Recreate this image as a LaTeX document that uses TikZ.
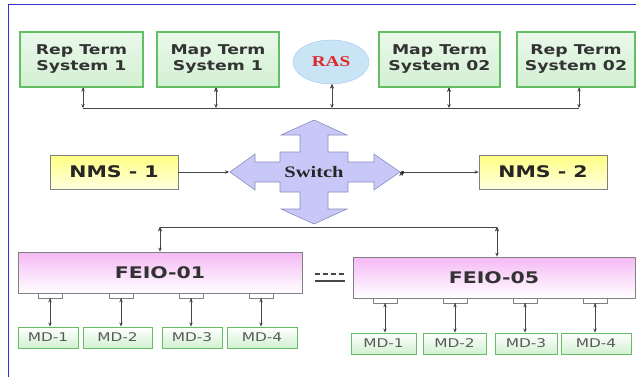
\documentclass[tikz,border=0pt]{standalone}
\usepackage{fontspec}
\setmainfont{DejaVu Sans}[FakeStretch=1.28]
\newfontfamily\swfont{Liberation Serif}[FakeStretch=1.28]
\usetikzlibrary{arrows.meta,positioning,shapes}
\definecolor{termgreen}{RGB}{100,190,100}
\definecolor{termfill}{RGB}{210,240,210}
\definecolor{nmsyellow}{RGB}{255,255,130}
\definecolor{feiopink}{RGB}{245,185,245}
\definecolor{swfill}{RGB}{200,200,248}
\definecolor{swdraw}{RGB}{140,140,190}
\definecolor{frameblue}{RGB}{50,50,210}
\definecolor{linkgray}{RGB}{70,70,70}
\definecolor{rasfill}{RGB}{200,228,245}
\definecolor{rasred}{RGB}{225,40,40}
\tikzset{
net/.style={>={Stealth[length=4pt,width=3.5pt]}},
link/.style={draw=linkgray,line width=0.7pt},
term/.style={rectangle,draw=termgreen,line width=1.2pt,top color=termfill!45,
bottom color=termfill,minimum width=#1,minimum height=55pt,align=center,
text=black!80,font=\fontsize{13.5}{16}\selectfont\bfseries},
term/.default={122pt},
ras/.style={ellipse,fill=rasfill,draw=rasfill!85!blue,minimum width=76pt,
minimum height=44pt,text=rasred,font=\swfont\bfseries\fontsize{15}{17}\selectfont},
nms/.style={rectangle,draw=gray,line width=0.8pt,top color=nmsyellow,
bottom color=nmsyellow!25,minimum width=128pt,minimum height=34pt,
text=black!85,font=\fontsize{16}{18}\selectfont\bfseries},
feio/.style={rectangle,draw=gray,line width=0.8pt,top color=feiopink,
bottom color=white,minimum width=#1,minimum height=41pt,
text=black!80,font=\fontsize{16}{18}\selectfont\bfseries},
feio/.default={283pt},
port/.style={rectangle,draw=gray,line width=0.7pt,fill=white,
minimum width=24pt,minimum height=5pt,inner sep=0pt},
md/.style={rectangle,draw=termgreen,line width=0.9pt,top color=white,
bottom color=termfill,minimum width=#1,minimum height=21pt,inner sep=0pt,
text=black!65,font=\fontsize{12}{14}\selectfont},
md/.default={62pt},
switch/.style={fill=swfill,draw=swdraw,line width=0.6pt},
frame/.style={draw=frameblue,line width=1.8pt},
}
\begin{document}
\begin{tikzpicture}[x=1pt,y=-1pt,net]
\useasboundingbox (0,0) rectangle (636,377);
\draw[frame] (636,4.5) -- (8.5,4.5) -- (8.5,377);

% upper row
\node[term=123pt] (rep1) at (81.5,59.5) {Rep Term\\System 1};
\node[term=122pt] (map1) at (218,59.5) {Map Term\\System 1};
\node[ras] (ras) at (331,62) {RAS};
\node[term=121pt] (map2) at (439.5,59.5) {Map Term\\System 02};
\node[term=118pt] (rep2) at (576,59.5) {Rep Term\\System 02};

\coordinate (b1) at (83,108);
\coordinate (b2) at (216,108);
\coordinate (b3) at (332,108);
\coordinate (b4) at (449,108);
\coordinate (b5) at (579,108);
\path[link] (b1) edge (b5);
\path[link,->] (rep1.south -| b1) edge (b1);
\path[link,<->] (map1.south -| b2) edge (b2);
\path[link,<->] (ras.south -| b3) edge (b3);
\path[link,<->] (map2.south -| b4) edge (b4);
\path[link,->] (rep2.south -| b5) edge (b5);

% switch
\draw[switch] (314,120) -- (347,135) -- (328,135) -- (328,152) -- (348,152)
  -- (348,162) -- (374,162) -- (374,154) -- (400,172) -- (374,190) -- (374,182)
  -- (348,182) -- (348,192) -- (328,192) -- (328,209) -- (347,209) -- (314,224)
  -- (281,209) -- (300,209) -- (300,192) -- (280,192) -- (280,182) -- (255,182)
  -- (255,190) -- (230,172) -- (255,154) -- (255,162) -- (280,162) -- (280,152)
  -- (300,152) -- (300,135) -- (281,135) -- cycle;
\node[font=\swfont\bfseries\fontsize{16}{18}\selectfont,text=black!85] (sw) at (314,172) {Switch};
\coordinate (swL) at (229,172);
\coordinate (swR) at (401,172);

\node[nms] (nms1) at (114,172) {NMS - 1};
\node[nms] (nms2) at (543,172) {NMS - 2};
\path[link,->] (nms1) edge (swL);
\path[link,{Square[length=2.5pt,width=2.5pt]}->] (swR) edge (nms2);

% lower row
\coordinate (c1) at (160,227);
\coordinate (c2) at (497,227);
\path[link] (c1) edge (c2);
\node[feio=284pt] (feio1) at (160,272.5) {FEIO-01};
\node[feio=282pt] (feio5) at (494,277.5) {FEIO-05};
\path[link,<->] (c1) edge (feio1.north -| c1);
\path[link,<->] (c2) edge (feio5.north -| c2);

\draw[linkgray,line width=1.6pt,dash pattern=on 5pt off 3pt] (315,274) -- (345,274);
\draw[linkgray,line width=2pt] (315,281) -- (345,281);

\node[port] (p11) at (50,295.5) {};
\node[port] (p12) at (121,295.5) {};
\node[port] (p13) at (191,295.5) {};
\node[port] (p14) at (261,295.5) {};
\node[md=60pt] (md11) at (48,337.5) {MD-1};
\node[md=69pt] (md12) at (117.5,337.5) {MD-2};
\node[md=60pt] (md13) at (192,337.5) {MD-3};
\node[md=70pt] (md14) at (262,337.5) {MD-4};
\path[link,->] (p11.south) edge (p11.south |- md11.north);
\path[link,->] (p12.south) edge (p12.south |- md12.north);
\path[link,->] (p13.south) edge (p13.south |- md13.north);
\path[link,->] (p14.south) edge (p14.south |- md14.north);

\node[port] (p51) at (385,300.5) {};
\node[port] (p52) at (455,300.5) {};
\node[port] (p53) at (525,300.5) {};
\node[port] (p54) at (595,300.5) {};
\node[md=65pt] (md51) at (383.5,343.5) {MD-1};
\node[md=63pt] (md52) at (454.5,343.5) {MD-2};
\node[md=62pt] (md53) at (526,343.5) {MD-3};
\node[md=70pt] (md54) at (596,343.5) {MD-4};
\path[link,->] (p51.south) edge (p51.south |- md51.north);
\path[link,->] (p52.south) edge (p52.south |- md52.north);
\path[link,->] (p53.south) edge (p53.south |- md53.north);
\path[link,->] (p54.south) edge (p54.south |- md54.north);
\end{tikzpicture}
\end{document}
